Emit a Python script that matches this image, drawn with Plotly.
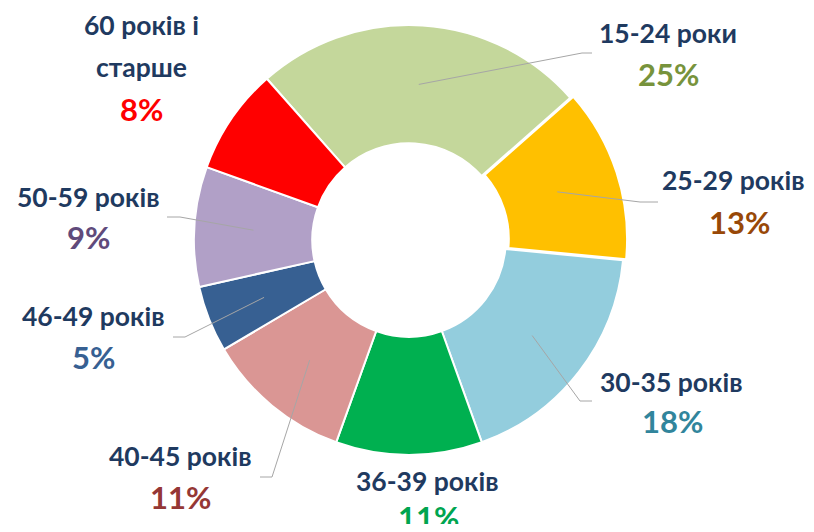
import math
import plotly.graph_objects as go

# ---- data ----
categories = ["15-24 роки", "25-29 років", "30-35 років", "36-39 років",
              "40-45 років", "46-49 років", "50-59 років", "60 років і старше"]
values = [25, 13, 18, 11, 11, 5, 9, 8]
pct_labels = ["25%", "13%", "18%", "11%", "11%", "5%", "9%", "8%"]
slice_colors = ["#C4D79B", "#FFC000", "#93CDDD", "#00B050",
                "#DA9694", "#376092", "#B1A0C7", "#FF0000"]
pct_colors = ["#77933C", "#984807", "#31859C", "#00A550",
              "#953735", "#376092", "#604A7B", "#FF0000"]
pulls = [0, 0.015, 0, 0, 0, 0, 0, 0]

# ---- layout constants (window pixels) ----
OFF = 8                      # page body margin
W, H = 814 - 2 * OFF, 532 - 2 * OFF
CX, CY, R = 409, 240, 215
HOLE = 0.45
START = -41.4  # clockwise from 12 o'clock
LABEL_FONT = "Lato, 'Open Sans', sans-serif"
NAVY = "#1F3A60"

label_lines = [
    [("15-24 роки", 668, 33)],
    [("25-29 років", 733, 180)],
    [("30-35 років", 671, 382)],
    [("36-39 років", 427, 481)],
    [("40-45 років", 180, 456)],
    [("46-49 років", 93, 316)],
    [("50-59 років", 88, 197)],
    [("60 років і", 141, 25), ("старше", 141, 67)],
]
pct_pos = [(668, 74), (739, 222), (672, 421), (428, 517),
           (180, 497), (93, 357), (88, 237), (141, 109)]
leaders = [((582, 53), (592, 53)), ((640, 202), (658, 202)), ((580, 401), (592, 401)),
           None, ((272, 477), (260, 477)), ((185, 337), (173, 337)),
           ((180, 217), (167, 217)), None]


def px(x):
    return (x - OFF) / W


def py(y):
    return 1 - (y - OFF) / H


maxpull = max(pulls)
hs = R * (1 + maxpull)
fig = go.Figure(go.Pie(
    labels=categories, values=values, sort=False, direction="clockwise",
    rotation=START, hole=HOLE, pull=pulls, textinfo="none", hoverinfo="label+percent",
    marker=dict(colors=slice_colors, line=dict(color="white", width=2)),
    domain=dict(x=[px(CX - hs), px(CX + hs)], y=[py(CY + hs), py(CY - hs)]),
    showlegend=False,
))

annotations = []
shapes = []
total = sum(values)
cum = 0
rmid = R * (1 + HOLE) / 2
for i, v in enumerate(values):
    mid = START + (cum + v / 2) / total * 360
    cum += v
    for txt, x, y in label_lines[i]:
        annotations.append(dict(x=px(x), y=py(y), xref="paper", yref="paper", text=txt,
                                showarrow=False, xanchor="center", yanchor="middle",
                                font=dict(family=LABEL_FONT, size=26.5, color=NAVY, weight=700)))
    x, y = pct_pos[i]
    annotations.append(dict(x=px(x), y=py(y), xref="paper", yref="paper", text=pct_labels[i],
                            showarrow=False, xanchor="center", yanchor="middle",
                            font=dict(family=LABEL_FONT, size=31, color=pct_colors[i], weight=700)))
    if leaders[i] is not None:
        a = math.radians(mid)
        sx = CX + rmid * math.sin(a)
        sy = CY - rmid * math.cos(a)
        (ex, ey), (fx, fy) = leaders[i]
        path = f"M {px(sx)},{py(sy)} L {px(ex)},{py(ey)} L {px(fx)},{py(fy)}"
        shapes.append(dict(type="path", path=path, xref="paper", yref="paper",
                           line=dict(color="#A6A6A6", width=1)))

fig.update_layout(
    width=W, height=H, margin=dict(l=0, r=0, t=0, b=0),
    paper_bgcolor="white", plot_bgcolor="white",
    annotations=annotations, shapes=shapes,
)
fig.write_html("out.html")
